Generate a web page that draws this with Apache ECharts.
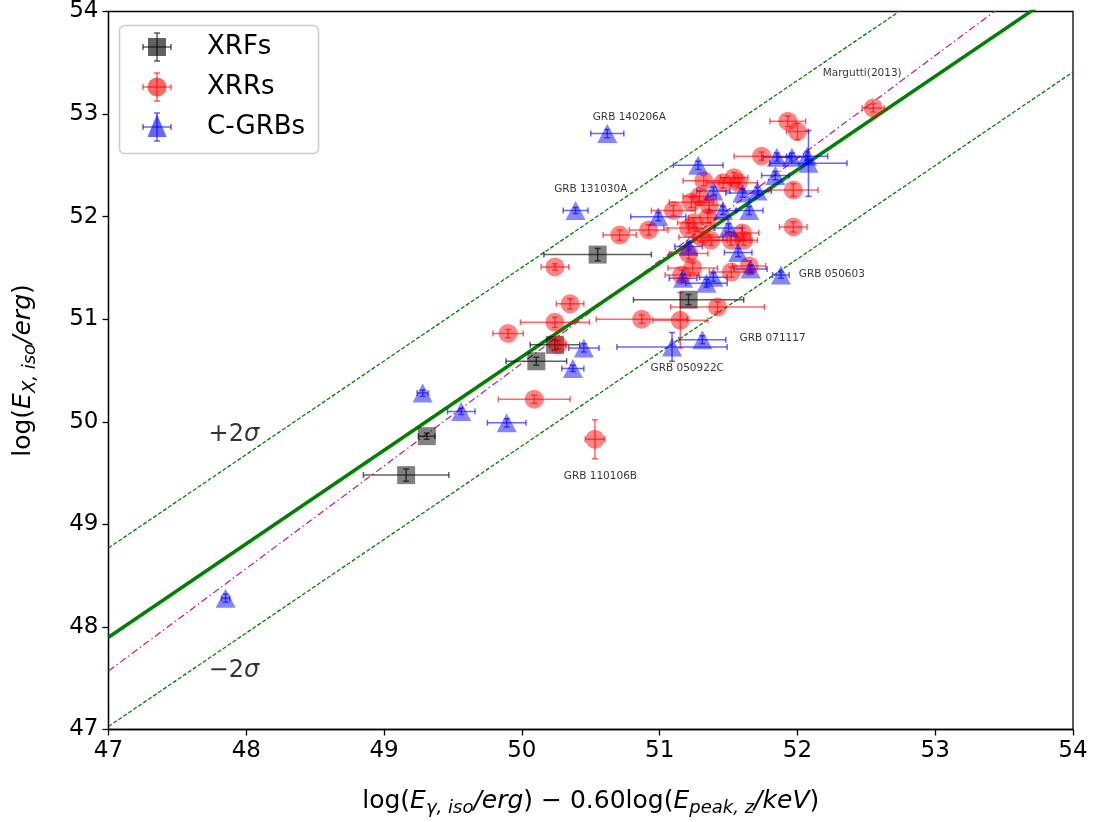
<!DOCTYPE html>
<html><head><meta charset="utf-8">
<script src="https://cdn.jsdelivr.net/npm/echarts@6/dist/echarts.min.js"></script>
<style>html,body{margin:0;padding:0;background:#fff}#c{width:1096px;height:822px}</style>
</head><body><div id="c"></div>
<script>
// ---- XRFs ----
const xrfX    = [50.55, 51.21, 50.105, 50.24, 49.31, 49.16];
const xrfY    = [51.63, 51.19, 50.59, 50.75, 49.86, 49.48];
const xrfXerr = [0.39, 0.40, 0.22, 0.18, 0.06, 0.31];
const xrfYerr = [0.06, 0.05, 0.04, 0.05, 0.03, 0.06];
// ---- XRRs ----
const xrrX = [52.55, 51.93, 52.00, 51.74, 51.97, 51.97, 51.32, 51.46, 51.54, 51.57,
              51.29, 51.23, 51.10, 51.36, 51.35, 51.25, 51.21, 50.92, 50.71, 51.30,
              51.37, 51.52, 51.60, 51.61, 51.21, 51.24, 51.16, 51.52, 51.65, 51.42,
              51.15, 50.87, 50.24, 50.35, 50.24, 49.90, 50.26, 50.09, 50.53];
const xrrY = [53.06, 52.93, 52.83, 52.59, 52.26, 51.90, 52.35, 52.33, 52.38, 52.33,
              52.20, 52.14, 52.06, 52.11, 51.99, 51.94, 51.89, 51.87, 51.82, 51.80,
              51.77, 51.77, 51.84, 51.77, 51.64, 51.50, 51.43, 51.46, 51.52, 51.12,
              50.99, 51.00, 51.51, 51.15, 50.97, 50.86, 50.75, 50.22, 49.83];
const xrrXerr = [0.08, 0.13, 0.08, 0.20, 0.18, 0.10, 0.15, 0.12, 0.10, 0.14,
                 0.12, 0.16, 0.16, 0.10, 0.14, 0.12, 0.18, 0.14, 0.12, 0.16,
                 0.12, 0.14, 0.12, 0.10, 0.14, 0.18, 0.12, 0.16, 0.12, 0.34,
                 0.20, 0.33, 0.10, 0.10, 0.25, 0.11, 0.06, 0.26, 0.07];
const xrrYerr = [0.04, 0.05, 0.08, 0.04, 0.06, 0.05, 0.05, 0.05, 0.05, 0.05,
                 0.05, 0.05, 0.05, 0.05, 0.05, 0.05, 0.05, 0.05, 0.05, 0.05,
                 0.05, 0.05, 0.05, 0.05, 0.05, 0.05, 0.05, 0.05, 0.05, 0.05,
                 0.27, 0.04, 0.03, 0.05, 0.05, 0.04, 0.04, 0.04, 0.19];
// ---- C-GRBs ----
const cgX = [50.62, 50.39, 51.88, 51.31, 51.09, 50.45, 50.37, 49.28, 49.56, 49.89,
             47.85, 51.28, 51.85, 51.96, 52.07, 52.08, 51.84, 51.39, 51.46, 51.60,
             51.71, 51.65, 51.50, 50.99, 51.21, 51.57, 51.17, 51.34, 51.39, 51.66];
const cgY = [52.81, 52.06, 51.43, 50.80, 50.73, 50.72, 50.52, 50.28, 50.10, 49.99,
             48.28, 52.50, 52.58, 52.58, 52.59, 52.52, 52.40, 52.25, 52.06, 52.23,
             52.25, 52.06, 51.89, 52.00, 51.71, 51.65, 51.40, 51.35, 51.41, 51.49];
const cgXerr = [0.12, 0.09, 0.06, 0.17, 0.40, 0.11, 0.08, 0.04, 0.10, 0.14,
                0.03, 0.18, 0.10, 0.10, 0.15, 0.28, 0.10, 0.12, 0.10, 0.12,
                0.10, 0.10, 0.10, 0.20, 0.10, 0.10, 0.10, 0.15, 0.10, 0.12];
const cgYerr = [0.04, 0.03, 0.03, 0.04, 0.14, 0.04, 0.03, 0.03, 0.03, 0.04,
                0.04, 0.04, 0.04, 0.04, 0.04, 0.32, 0.04, 0.04, 0.04, 0.04,
                0.04, 0.04, 0.04, 0.04, 0.04, 0.04, 0.04, 0.04, 0.04, 0.04];
// ---- lines (endpoints) ----
const lineX      = [47, 54];
const fitY       = [47.90, 54.28];
const upperY     = [48.77, 55.15];
const lowerY     = [47.03, 53.41];
const marguttiY  = [47.57, 54.57];
// ---- annotations ----
const annText = ['GRB 140206A', 'GRB 131030A', 'GRB 050603', 'GRB 071117', 'GRB 050922C', 'GRB 110106B', 'Margutti(2013)'];
const annX    = [50.78, 50.50, 52.01, 51.58, 51.20, 50.57, 52.47];
const annY    = [52.97, 52.27, 51.44, 50.81, 50.52, 49.47, 53.40];
const annAlign= ['center','center','left','left','center','center','center'];
const sigText = ['{n|+2}{i|σ}', '{n|−2}{i|σ}'];
const sigX    = [47.91, 47.91];
const sigY    = [49.87, 47.57];
// ---- axes ----
const xTicks = [47, 48, 49, 50, 51, 52, 53, 54];
const yTicks = [47, 48, 49, 50, 51, 52, 53, 54];

const FONT = 'DejaVu Sans';
const cRed = 'rgba(255,0,0,0.6)', cBlue = 'rgba(0,0,255,0.6)', cGray = 'rgba(0,0,0,0.62)';

function zip4(a,b,c,d){ return a.map((v,i)=>[v,b[i],c[i],d[i]]); }
function errRender(color){
  return function(params, api){
    const x=api.value(0), y=api.value(1), xe=api.value(2), ye=api.value(3);
    const l=api.coord([x-xe,y]), r=api.coord([x+xe,y]);
    const t=api.coord([x,y+ye]), b=api.coord([x,y-ye]);
    const c=3;
    const st={stroke:color, lineWidth:1.5, fill:null};
    const L=(x1,y1,x2,y2)=>({type:'line', shape:{x1,y1,x2,y2}, style:st});
    return {type:'group', children:[
      L(l[0],l[1],r[0],r[1]), L(t[0],t[1],b[0],b[1]),
      L(l[0],l[1]-c,l[0],l[1]+c), L(r[0],r[1]-c,r[0],r[1]+c),
      L(t[0]-c,t[1],t[0]+c,t[1]), L(b[0]-c,b[1],b[0]+c,b[1])
    ]};
  };
}
function errSeries(x,y,xe,ye,color){
  return {type:'custom', renderItem: errRender(color), data: zip4(x,y,xe,ye),
          encode:{x:0,y:1}, clip:true, z:3, silent:true};
}
function lineSeries(ys, color, width, type){
  return {type:'line', data: lineX.map((v,i)=>[v, ys[i]]), symbol:'none', clip:true,
          lineStyle:{color, width, type}, z:2, silent:true, animation:false};
}

const richName = {
  n:{fontFamily:FONT, fontSize:25, color:'#000', lineHeight:30},
  i:{fontFamily:FONT, fontSize:25, color:'#000', fontStyle:'italic', lineHeight:30},
  s:{fontFamily:FONT, fontSize:18, color:'#000', fontStyle:'italic', lineHeight:19, padding:[13,0,0,0]}
};

const chart = echarts.init(document.getElementById('c'), null, {renderer:'canvas'});
const axisCommon = {
  min: 47, max: 54, interval: 1,
  axisLine:{show:true, onZero:false, lineStyle:{color:'#000', width:1.3}},
  axisTick:{show:true, inside:false, length:6, lineStyle:{color:'#000', width:1.3}},
  axisLabel:{fontFamily:FONT, fontSize:23, color:'#000', margin:10},
  splitLine:{show:false}
};
chart.setOption({
  animation:false,
  backgroundColor:'#fff',
  grid:{left:106, right:23, top:10, bottom:91, show:true, borderColor:'#000', borderWidth:1.3, containLabel:false},
  xAxis: Object.assign({}, axisCommon, {
    type:'value',
    name:'{n|log(}{i|E}{s|γ, iso}{i|/erg}{n|) − 0.60log(}{i|E}{s|peak, z}{i|/keV}{n|)}',
    nameLocation:'middle', nameGap:57,
    nameTextStyle:{rich:richName},
    axisLabel:Object.assign({}, axisCommon.axisLabel, {formatter:(v)=> xTicks.includes(v)? String(v):''})
  }),
  yAxis: Object.assign({}, axisCommon, {
    type:'value',
    name:'{n|log(}{i|E}{s|X, iso}{i|/erg}{n|)}',
    nameLocation:'middle', nameGap:70, nameRotate:90,
    nameTextStyle:{rich:richName},
    axisLabel:Object.assign({}, axisCommon.axisLabel, {formatter:(v)=> yTicks.includes(v)? String(v):''})
  }),
  series:[
    lineSeries(upperY, '#008000', 1.3, [4,2]),
    lineSeries(lowerY, '#008000', 1.3, [4,2]),
    lineSeries(marguttiY, '#c71585', 1.2, [7,3,1.5,3]),
    lineSeries(fitY, '#008000', 3.5, 'solid'),
    errSeries(xrfX, xrfY, xrfXerr, xrfYerr, cGray),
    errSeries(xrrX, xrrY, xrrXerr, xrrYerr, cRed),
    errSeries(cgX, cgY, cgXerr, cgYerr, cBlue),
    {name:'XRFs', type:'scatter', symbol:'rect', symbolSize:18, data: xrfX.map((v,i)=>[v,xrfY[i]]),
     itemStyle:{color:cGray}, z:4, silent:true},
    {name:'XRRs', type:'scatter', symbol:'circle', symbolSize:19, data: xrrX.map((v,i)=>[v,xrrY[i]]),
     itemStyle:{color:cRed}, z:4, silent:true},
    {name:'C-GRBs', type:'scatter', symbol:'triangle', symbolSize:[20,19], data: cgX.map((v,i)=>[v,cgY[i]]),
     itemStyle:{color:cBlue}, z:4, silent:true},
    {type:'scatter', symbolSize:0, silent:true, z:6,
     data: annText.map((t,i)=>({value:[annX[i],annY[i]], label:{show:true, position:[0,0], formatter:t,
        align:annAlign[i], verticalAlign:'middle', fontFamily:FONT, fontSize:10.5, color:'#000', textBorderWidth:0}}))},
    {type:'scatter', symbolSize:0, silent:true, z:6,
     data: sigText.map((t,i)=>({value:[sigX[i],sigY[i]], label:{show:true, position:[0,0], align:'center', verticalAlign:'middle',
        formatter:t, textBorderWidth:0,
        rich:{n:{fontFamily:FONT, fontSize:24, color:'#000'}, i:{fontFamily:FONT, fontSize:24, color:'#000', fontStyle:'italic'}}}}))}
  ],
  graphic:[
    {type:'group', z:100, children:[
      {type:'rect', shape:{x:119.5, y:25.5, width:199, height:128, r:5},
       style:{fill:'rgba(255,255,255,0.85)', stroke:'#cccccc', lineWidth:1.5}},
      {type:'rect', shape:{x:148, y:38, width:18, height:18}, style:{fill:cGray}},
      {type:'line', shape:{x1:143, y1:47, x2:171, y2:47}, style:{stroke:cGray, lineWidth:1.5}},
      {type:'line', shape:{x1:157, y1:33, x2:157, y2:61}, style:{stroke:cGray, lineWidth:1.5}},
      {type:'line', shape:{x1:143, y1:44, x2:143, y2:50}, style:{stroke:cGray, lineWidth:1.5}},
      {type:'line', shape:{x1:171, y1:44, x2:171, y2:50}, style:{stroke:cGray, lineWidth:1.5}},
      {type:'line', shape:{x1:154, y1:33, x2:160, y2:33}, style:{stroke:cGray, lineWidth:1.5}},
      {type:'line', shape:{x1:154, y1:61, x2:160, y2:61}, style:{stroke:cGray, lineWidth:1.5}},
      {type:'circle', shape:{cx:157, cy:87, r:9.5}, style:{fill:cRed}},
      {type:'line', shape:{x1:143, y1:87, x2:171, y2:87}, style:{stroke:cRed, lineWidth:1.5}},
      {type:'line', shape:{x1:157, y1:73, x2:157, y2:101}, style:{stroke:cRed, lineWidth:1.5}},
      {type:'line', shape:{x1:143, y1:84, x2:143, y2:90}, style:{stroke:cRed, lineWidth:1.5}},
      {type:'line', shape:{x1:171, y1:84, x2:171, y2:90}, style:{stroke:cRed, lineWidth:1.5}},
      {type:'line', shape:{x1:154, y1:73, x2:160, y2:73}, style:{stroke:cRed, lineWidth:1.5}},
      {type:'line', shape:{x1:154, y1:101, x2:160, y2:101}, style:{stroke:cRed, lineWidth:1.5}},
      {type:'polygon', shape:{points:[[157,114],[147.5,137],[166.5,137]]}, style:{fill:cBlue}},
      {type:'line', shape:{x1:143, y1:127, x2:171, y2:127}, style:{stroke:cBlue, lineWidth:1.5}},
      {type:'line', shape:{x1:157, y1:113, x2:157, y2:141}, style:{stroke:cBlue, lineWidth:1.5}},
      {type:'line', shape:{x1:143, y1:124, x2:143, y2:130}, style:{stroke:cBlue, lineWidth:1.5}},
      {type:'line', shape:{x1:171, y1:124, x2:171, y2:130}, style:{stroke:cBlue, lineWidth:1.5}},
      {type:'line', shape:{x1:154, y1:113, x2:160, y2:113}, style:{stroke:cBlue, lineWidth:1.5}},
      {type:'line', shape:{x1:154, y1:141, x2:160, y2:141}, style:{stroke:cBlue, lineWidth:1.5}},
      {type:'text', style:{x:207, y:47, text:'XRFs', fontFamily:FONT, fontSize:26, fill:'#000', verticalAlign:'middle'}},
      {type:'text', style:{x:207, y:87, text:'XRRs', fontFamily:FONT, fontSize:26, fill:'#000', verticalAlign:'middle'}},
      {type:'text', style:{x:207, y:127, text:'C-GRBs', fontFamily:FONT, fontSize:26, fill:'#000', verticalAlign:'middle'}}
    ]}
  ]
});
</script></body></html>
